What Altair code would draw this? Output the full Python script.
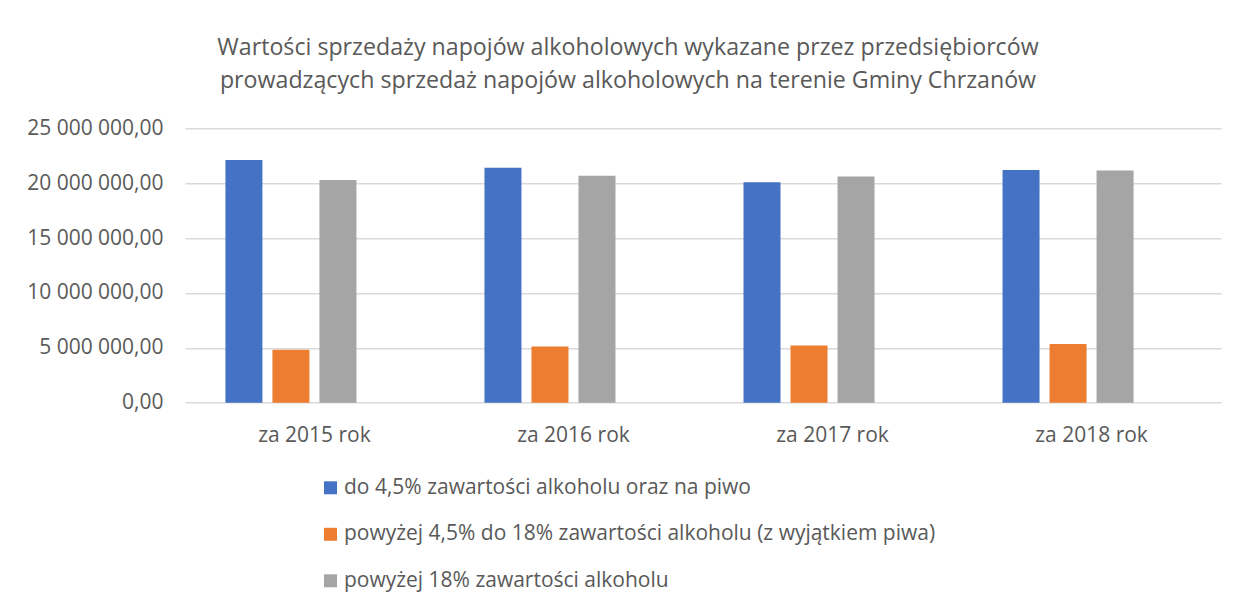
import altair as alt
import pandas as pd

years = ["za 2015 rok", "za 2016 rok", "za 2017 rok", "za 2018 rok"]
series = [
    "do 4,5% zawartości alkoholu oraz na piwo",
    "powyżej 4,5% do 18% zawartości alkoholu (z wyjątkiem piwa)",
    "powyżej 18% zawartości alkoholu",
]
empty_slot = "_"  # empty 4th slot in each group, as in the original
beer = [22120000, 21400000, 20090000, 21210000]
wine = [4820000, 5120000, 5210000, 5340000]
spirits = [20300000, 20670000, 20600000, 21150000]
colors = ["#4472C4", "#ED7D31", "#A5A5A5"]

rows = []
for s, vals in zip(series, [beer, wine, spirits]):
    for y, v in zip(years, vals):
        rows.append({"rok": y, "seria": s, "wartosc": v})
df = pd.DataFrame(rows)

FONT = "Open Sans"
TXT = "#595959"

title = alt.TitleParams(
    text=[
        "Wartości sprzedaży napojów alkoholowych wykazane przez przedsiębiorców",
        "prowadzących sprzedaż napojów alkoholowych na terenie Gminy Chrzanów",
    ],
    anchor="middle",
    dx=-75,
    fontSize=23.2,
    font=FONT,
    fontWeight="normal",
    color=TXT,
    lineHeight=33,
    offset=24,
)

chart = (
    alt.Chart(df, title=title)
    .mark_bar()
    .encode(
        x=alt.X(
            "rok:N",
            sort=years,
            scale=alt.Scale(paddingInner=0.3127, paddingOuter=0.156),
            axis=alt.Axis(
                title=None,
                labelAngle=0,
                ticks=False,
                domain=False,
                labelFont=FONT,
                labelFontSize=21,
                labelColor=TXT,
                labelPadding=22,
            ),
        ),
        xOffset=alt.XOffset(
            "seria:N",
            scale=alt.Scale(domain=series + [empty_slot], paddingInner=0.213, paddingOuter=0),
        ),
        y=alt.Y(
            "wartosc:Q",
            scale=alt.Scale(domain=[0, 25000000]),
            axis=alt.Axis(
                title=None,
                values=[0, 5000000, 10000000, 15000000, 20000000, 25000000],
                labelExpr="replace(replace(format(datum.value, ',.2f'), regexp(',', 'g'), ' '), '.', ',')",
                ticks=False,
                domain=False,
                gridColor="#D9D9D9",
                gridWidth=1.5,
                labelFont=FONT,
                labelFontSize=21,
                labelColor=TXT,
                labelPadding=22,
            ),
        ),
        color=alt.Color(
            "seria:N",
            sort=series,
            scale=alt.Scale(domain=series, range=colors),
            legend=alt.Legend(
                title=None,
                orient="none",
                legendX=135,
                legendY=349,
                direction="vertical",
                symbolType="square",
                symbolSize=169,
                symbolStrokeWidth=0,
                labelFont=FONT,
                labelFontSize=21,
                labelColor=TXT,
                labelLimit=900,
                rowPadding=24.5,
                labelOffset=3,
            ),
        ),
    )
    .properties(
        width=1036,
        height=274.4,
        autosize=alt.AutoSizeParams(type="none"),
        padding={"left": 177, "top": 120.3, "right": 10, "bottom": 194},
    )
    .configure_view(stroke=None)
)

chart.save("out.html", embed_options={"renderer": "svg", "actions": False})
